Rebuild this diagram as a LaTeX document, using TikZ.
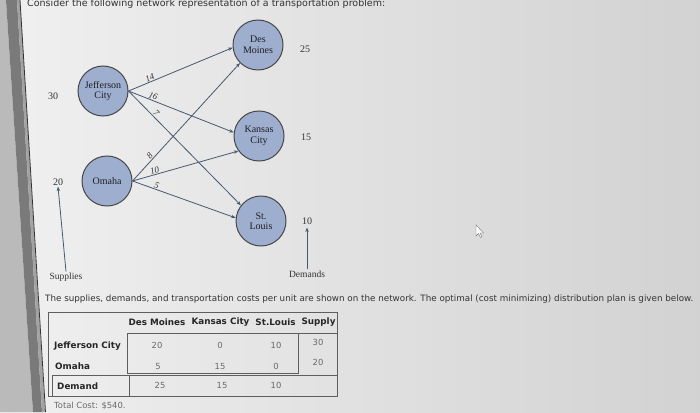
\documentclass[tikz,border=0pt]{standalone}
\usepackage{fontspec}
\setmainfont{Liberation Serif}
\newfontfamily\verd{DejaVu Sans}
\usetikzlibrary{arrows.meta}
\definecolor{nodefill}{HTML}{9DAECF}
\definecolor{edgec}{HTML}{46586F}
\definecolor{txt}{HTML}{333333}
\definecolor{val}{HTML}{6A6A6A}
\definecolor{tline}{HTML}{5E5E5E}
\definecolor{bgl}{HTML}{F0F0F0}
\definecolor{bgr}{HTML}{D2D2D2}
\begin{document}
\begin{tikzpicture}[x=1pt,y=-1pt,
 city/.style={circle,draw=black!72,line width=1pt,fill=nodefill,minimum size=50pt,inner sep=0pt,align=center,font=\fontsize{10}{10.5}\selectfont,text=black!88},
 flow/.style={draw=edgec,line width=0.8pt,-{Stealth[length=4.5pt,width=3.5pt]}},
 cost/.style={font=\fontsize{9}{9}\selectfont\itshape,sloped,above,inner sep=0.8pt,pos=0.22,text=txt},
 qty/.style={font=\fontsize{10}{10}\selectfont,text=txt,inner sep=1pt},
 lbl/.style={font=\fontsize{9.5}{10}\selectfont,text=txt,inner sep=1pt},
 th/.style={font=\verd\bfseries\fontsize{8.8}{9}\selectfont,text=black!85},
 tv/.style={font=\verd\fontsize{8.4}{9}\selectfont,text=val},
 tl/.style={draw=tline,line width=0.7pt}
]
\useasboundingbox (0,0) rectangle (700,412);
\shade[left color=bgl,right color=bgr] (0,0) rectangle (700,412);
% monitor edge strip
\fill[black!27] (0,0) -- (6,0) -- (33,412) -- (0,412) -- cycle;
\fill[black!52] (6,0) -- (17,0) -- (42,412) -- (33,412) -- cycle;
\fill[black!36] (17,0) -- (20,0) -- (45,412) -- (42,412) -- cycle;
\draw[black!80,line width=0.8pt] (20,0) -- (45.5,412);

% texts
\node[anchor=west,text=txt,inner sep=0pt] (title) at (27,4) {\resizebox{358pt}{!}{\verd Consider the following network representation of a transportation problem:}};

% network
\node[city] (dm) at (258,45) {Des\\Moines};
\node[city] (jc) at (103,91) {Jefferson\\City};
\node[city] (kc) at (259,136) {Kansas\\City};
\node[city] (om) at (107,181) {Omaha};
\node[city] (sl) at (261,221) {St.\\Louis};

\draw[flow] (jc.east) -- node[cost]{14} (dm.186);
\draw[flow] (jc.east) -- node[cost]{16} (kc.172);
\draw[flow] (jc.east) -- node[cost]{7} (sl.142);
\draw[flow] (om.east) -- node[cost,pos=0.19]{8} (dm.225);
\draw[flow] (om.east) -- node[cost]{10} (kc.216);
\draw[flow] (om.east) -- node[cost]{5} (sl.173);

\node[qty] (s30) at (53,96) {30};
\node[qty] (s20) at (58,182) {20};
\node[qty] (d25) at (305,49) {25};
\node[qty] (d15) at (306,137) {15};
\node[qty] (d10) at (307,221) {10};
\node[lbl] (supl) at (66,277) {Supplies};
\node[lbl] (deml) at (307,274) {Demands};
\draw[flow] (supl.north) -- (s20.south);
\draw[flow,shorten >=2pt] (deml.north) -- (d10.south);

\node[anchor=west,text=txt,inner sep=0pt] (para) at (45,299) {\resizebox{648pt}{!}{\verd The supplies, demands, and transportation costs per unit are shown on the network. The optimal (cost minimizing) distribution plan is given below.}};

% table
\draw[tl] (48,312) rectangle (337,396);
\draw[tl] (127,333) rectangle (298,373);
\draw[tl] (298,333) -- (337,333);
\draw[tl] (52,375) -- (337,375);
\draw[tl] (52,375) -- (52,396);
\draw[tl] (129,375) -- (129,396);

\node[th] (hdm) at (157,322) {Des Moines};
\node[th] (hkc) at (220.5,322) {Kansas City};
\node[th] (hsl) at (275.5,322) {St.Louis};
\node[th] (hsu) at (318.5,322) {Supply};
\node[th,anchor=west,inner sep=0pt] (rjc) at (54,346) {Jefferson City};
\node[th,anchor=west,inner sep=0pt] (rom) at (55,366) {Omaha};
\node[th,anchor=west,inner sep=0pt] (rde) at (57,386) {Demand};

\node[tv] at (157,345) {20};
\node[tv] at (220,345) {0};
\node[tv] at (276,345) {10};
\node[tv] at (318,342) {30};
\node[tv] at (158,366) {5};
\node[tv] at (220,366) {15};
\node[tv] at (276,366) {0};
\node[tv] at (318,362) {20};
\node[tv] at (160,385) {25};
\node[tv] at (222,385) {15};
\node[tv] at (276,385) {10};

\node[tv,anchor=west,inner sep=0pt] (total) at (54,406) {Total Cost: \$540.};

% mouse pointer
\draw[black!55,fill=white,line width=0.4pt] (476,225) -- (476,236) -- (478.5,233.5) -- (480.5,237.5) -- (482,236.8) -- (480,233) -- (483.5,233) -- cycle;
\end{tikzpicture}
\end{document}
